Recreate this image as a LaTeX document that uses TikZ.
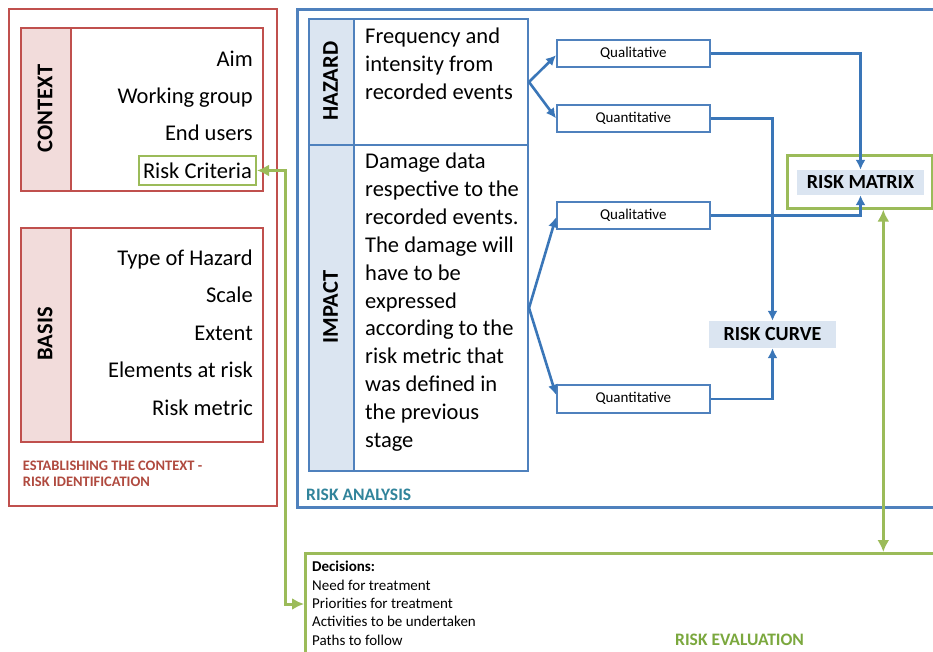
\documentclass[tikz,border=0pt]{standalone}
\usepackage{fontspec}
\setmainfont{Carlito}
\usetikzlibrary{arrows.meta,calc}
\definecolor{cred}{HTML}{C0504D}
\definecolor{cpink}{HTML}{F2DCDB}
\definecolor{cblue}{HTML}{4F81BD}
\definecolor{cblue2}{HTML}{3A76B8}
\definecolor{lblue}{HTML}{DBE5F1}
\definecolor{cgreen}{HTML}{9BBB59}
\definecolor{cteal}{HTML}{31849B}
\definecolor{cdred}{HTML}{B04A3F}
\definecolor{cgtxt}{HTML}{7BA83E}
\begin{document}
\begin{tikzpicture}[x=1pt,y=-1pt,
  redbox/.style={draw=cred, line width=2.2pt, anchor=north west, inner sep=0},
  pinkcol/.style={redbox, fill=cpink},
  bluebox/.style={draw=cblue, line width=2pt, anchor=north west, inner sep=0},
  bluecol/.style={bluebox, fill=lblue},
  smallbox/.style={draw=cblue, line width=1.6pt, anchor=north west, inner sep=0, minimum width=153, minimum height=27, font=\fontsize{15}{18}\selectfont},
  lbl/.style={rotate=90, inner sep=0, font=\bfseries\fontsize{22.5}{27}\selectfont},
  big/.style={font=\fontsize{22.5}{27}\selectfont, inner sep=0},
  small/.style={font=\fontsize{15}{18}\selectfont, inner sep=0, anchor=base west},
  title/.style={font=\bfseries\fontsize{17.5}{21}\selectfont, inner sep=0, anchor=base west},
  labelfill/.style={fill=lblue, inner sep=0, font=\bfseries\fontsize{20}{24}\selectfont},
  bluearrow/.style={draw=cblue2, line width=2.6pt, -{Latex[length=10pt,width=10pt]}},
  greenarrow/.style={draw=cgreen, line width=3pt, {Latex[length=12pt,width=12pt]}-{Latex[length=12pt,width=12pt]}},
  greenbox/.style={draw=cgreen, line width=2.6pt, anchor=north west, inner sep=0}
]
\useasboundingbox (0,0) rectangle (933,652);
\clip (0,0) rectangle (933,652);
\fill[white] (0,0) rectangle (933,652);

% ---------- Establishing the context ----------
\node[redbox, minimum width=268, minimum height=497] (ctxouter) at (8,8) {};
\node[redbox, minimum width=242, minimum height=163] (ctxbox) at (20,27) {};
\node[pinkcol, minimum width=50, minimum height=163] (ctxcol) at (20,27) {};
\node[lbl] (ctxlbl) at (45,108.5) {CONTEXT};
\node[big, anchor=base east] (aim) at (253,66.7) {Aim};
\node[big, anchor=base east] (wg) at (253,104) {Working group};
\node[big, anchor=base east] (eu) at (253,141) {End users};
\node[big, draw=cgreen, line width=2.4pt, inner xsep=4pt, minimum height=29, anchor=east] (rc) at (257,170.5) {Risk Criteria};

\node[redbox, minimum width=242, minimum height=214] (basbox) at (20,227) {};
\node[pinkcol, minimum width=50, minimum height=214] (bascol) at (20,227) {};
\node[lbl] (baslbl) at (45,334) {BASIS};
\node[big, anchor=base east] (b1) at (253,265) {Type of Hazard};
\node[big, anchor=base east] (b2) at (253,302.5) {Scale};
\node[big, anchor=base east] (b3) at (253,340) {Extent};
\node[big, anchor=base east] (b4) at (253,377.5) {Elements at risk};
\node[big, anchor=base east] (b5) at (253,415) {Risk metric};
\node[font=\bfseries\fontsize{14.5}{17}\selectfont, text=cdred, inner sep=0, anchor=base west] (es1) at (22.7,470.7) {ESTABLISHING THE CONTEXT -};
\node[font=\bfseries\fontsize{14.5}{17}\selectfont, text=cdred, inner sep=0, anchor=base west] (es2) at (22.7,486.7) {RISK IDENTIFICATION};

% ---------- Risk analysis ----------
\node[bluebox, line width=2.6pt, minimum width=700, minimum height=498] (ra) at (296,8) {};
\node[bluecol, minimum width=45, minimum height=126] (hzcol) at (308,18) {};
\node[bluebox, minimum width=174, minimum height=126] (hzc) at (353,18) {};
\node[bluecol, minimum width=45, minimum height=326] (imcol) at (308,144) {};
\node[bluebox, minimum width=174, minimum height=326] (imc) at (353,144) {};
\node[lbl] (hzlbl) at (330.5,81) {HAZARD};
\node[lbl] (imlbl) at (330.5,307) {IMPACT};
\foreach \t/\b [count=\i] in {Frequency and/43.5, intensity from/71.3, recorded events/99.1}
  {\node[big, anchor=base west] (hz\i) at (365,\b) {\t};}
\foreach \t/\b [count=\i] in {Damage data/169, respective to the/196.8, recorded events./224.6, The damage will/252.4, have to be/280.2, expressed/308, according to the/335.8, risk metric that/363.6, was defined in/391.4, the previous/419.2, stage/447}
  {\node[big, anchor=base west] (im\i) at (365,\b) {\t};}

\node[smallbox] (qual1) at (556,39) {Qualitative};
\node[smallbox] (quant1) at (556,104) {Quantitative};
\node[smallbox] (qual2) at (556,201) {Qualitative};
\node[smallbox, minimum height=28] (quant2) at (556,384) {Quantitative};

\node[greenbox, minimum width=145, minimum height=53] (mbox) at (786,154) {};
\node[labelfill, minimum width=127, minimum height=25] (mat) at (860.5,182.5) {RISK MATRIX};
\node[labelfill, minimum width=127, minimum height=27] (curve) at (772.5,334.5) {RISK CURVE};

\node[title, text=cteal] (ratxt) at (306,500.7) {RISK ANALYSIS};

\draw[bluearrow] (hzc.east) -- ([yshift=-2]qual1.west);
\draw[bluearrow] (hzc.east) -- (quant1.west);
\draw[bluearrow] (imc.east) -- ([yshift=-2]qual2.west);
\draw[bluearrow] (imc.east) -- ([yshift=4]quant2.west);
\draw[bluearrow] (qual1.east) -| (mat.north);
\draw[bluearrow] (quant1.east) -| (curve.north);
\draw[bluearrow] (qual2.east) -| (mat.south);
\draw[bluearrow] (quant2.east) -| (curve.south);

% ---------- Risk evaluation ----------
\node[greenbox, minimum width=700, minimum height=150] (eval) at (304,552) {};
\node[small, font=\bfseries\fontsize{15}{18}\selectfont] (d0) at (312,571.7) {Decisions:};
\node[small] (d1) at (312,590) {Need for treatment};
\node[small] (d2) at (312,608.4) {Priorities for treatment};
\node[small] (d3) at (312,626.7) {Activities to be undertaken};
\node[small] (d4) at (312,645) {Paths to follow};
\node[title, text=cgtxt] (retxt) at (675,645) {RISK EVALUATION};

\draw[greenarrow] ([xshift=23.5]mbox.south) -- ([xshift=23.5]mbox.south |- eval.north);
\draw[greenarrow] (rc.east) -| ([xshift=-19,yshift=-52]eval.north west) -- ([yshift=-52]eval.north west);
\end{tikzpicture}
\end{document}
